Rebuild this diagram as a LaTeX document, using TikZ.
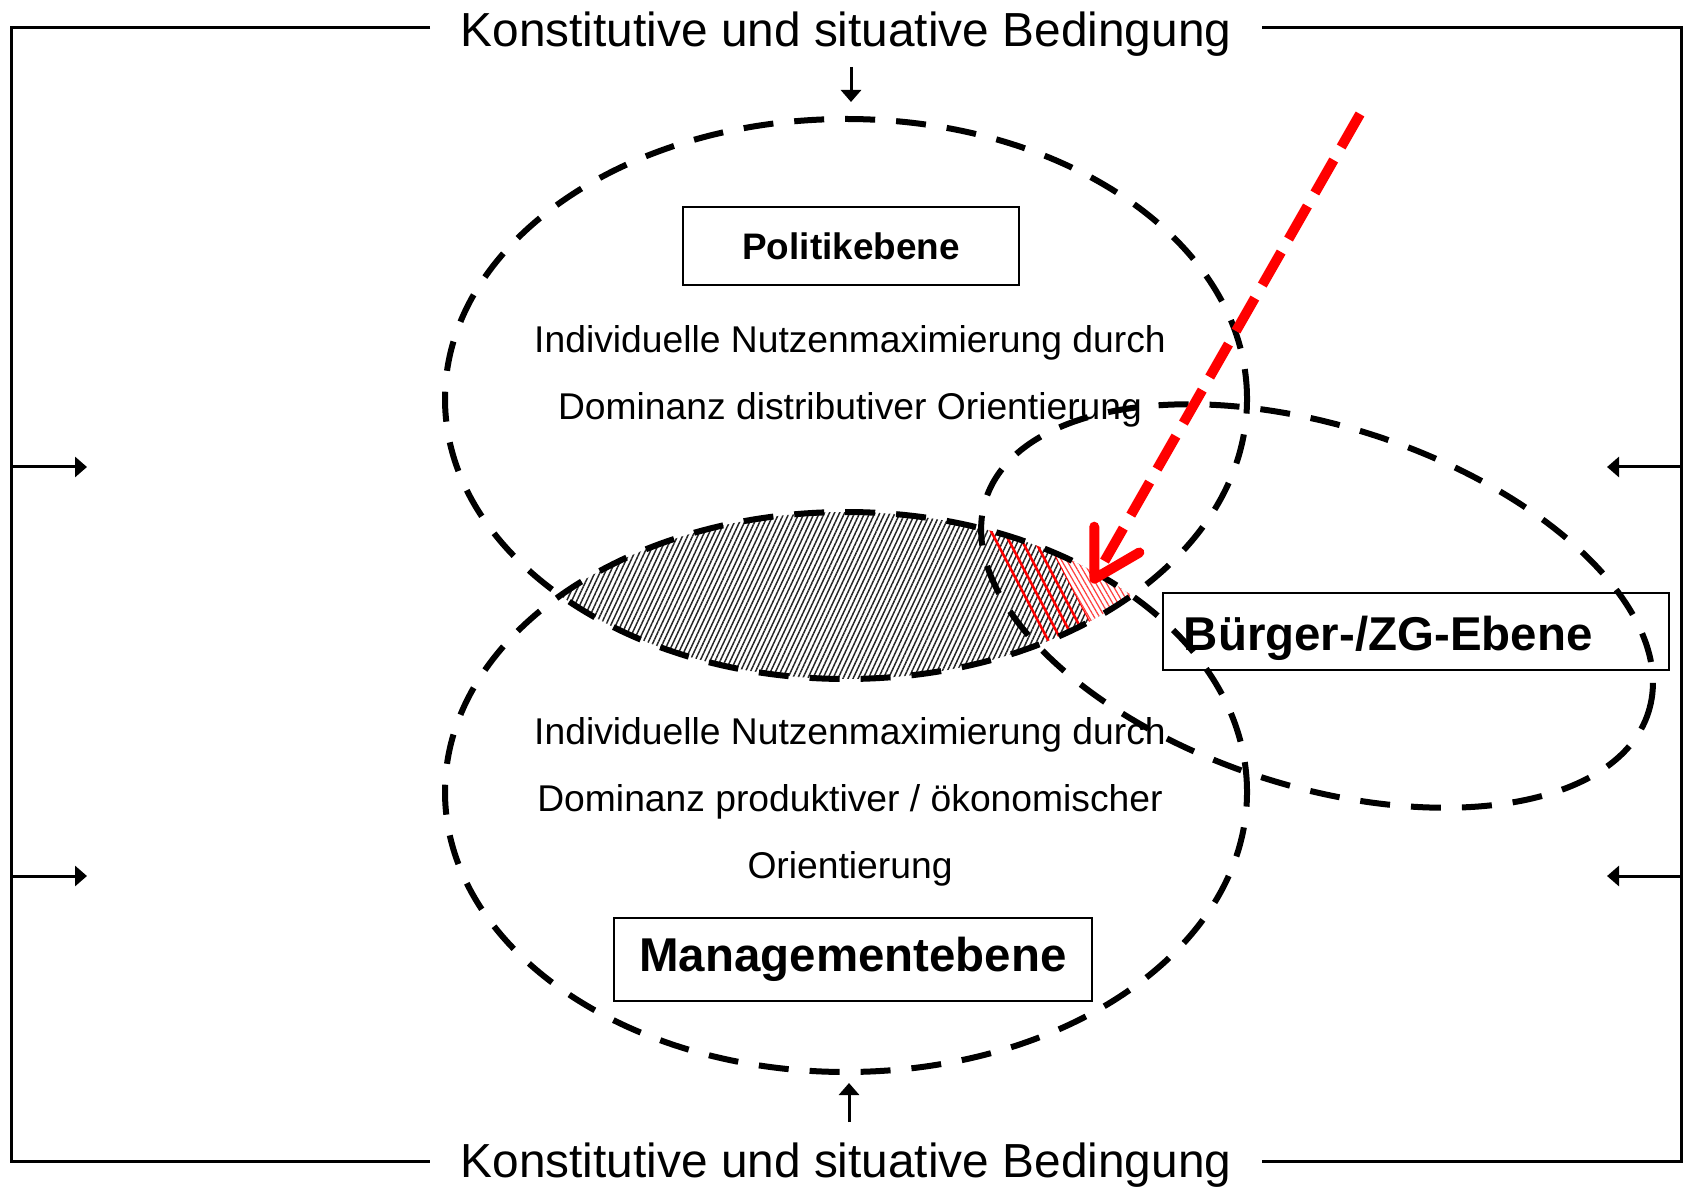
\documentclass[tikz,border=0pt]{standalone}
\usepackage{fontspec}
\setmainfont{Liberation Sans}
\usetikzlibrary{arrows.meta}
\usetikzlibrary{patterns.meta}
\usetikzlibrary{calc}

\tikzset{
  ebene/.style={line width=0.06cm, dash pattern=on 0.3cm off 0.21cm},
  rahmen/.style={line width=0.03cm},
  zufluss/.style={line width=0.03cm, -{Triangle[length=0.12cm, width=0.2cm]}},
  ebenenbox/.style={draw, line width=0.015cm, inner sep=0pt},
  bedingung/.style={font=\fontsize{13.6}{16}\selectfont, inner xsep=0.3cm, inner ysep=0pt},
  beschreibung/.style={font=\fontsize{10.6}{19}\selectfont, align=center},
  schnitt/.style={red, line width=0.025cm},
  einfluss/.style={red, line width=0.1cm, dash pattern=on 0.38cm off 0.15cm,
    -{Straight Barb[length=0.45cm, width=0.52cm, line cap=round, round]}}
}

\begin{document}
\begin{tikzpicture}
        \newcommand{\ebenecx}{8.46}
        \newcommand{\politcy}{7.90}
        \newcommand{\mgmtcy}{3.97}
        \newcommand{\ebenerx}{4.01}
        \newcommand{\ebenery}{2.80}
        \newcommand{\buergercx}{13.17}
        \newcommand{\buergercy}{5.83}
        \useasboundingbox (0,0) rectangle (16.9,11.89);
        \begin{scope}
            \clip (\ebenecx,\politcy) ellipse [x radius=\ebenerx, y radius=\ebenery];
            \fill[pattern={Lines[angle=65, distance=1.3pt, line width=0.42pt]}, pattern color=black!85]
                (\ebenecx,\mgmtcy) ellipse [x radius=\ebenerx, y radius=\ebenery];
            \clip (\ebenecx,\mgmtcy) ellipse [x radius=\ebenerx, y radius=\ebenery];
            \foreach \k in {0,...,4}
                \draw[schnitt] ($(9.93,6.54)+\k*(0.102,0.0534)+(-0.464,0.886)$) -- ++(1.392,-2.658);
            \fill[white] (10.106,7.196) -- (11.266,4.981) -- (12.5,4.981) -- (12.5,7.196) -- cycle;
            \fill[pattern={Lines[angle=-60, distance=1.3pt, line width=0.35pt]}, pattern color=red!75]
                (10.106,7.196) -- (11.266,4.981) -- (12.5,4.981) -- (12.5,7.196) -- cycle;
        \end{scope}
        \node[bedingung] (topcond) at (\ebenecx,11.55) {Konstitutive und situative Bedingung};
        \node[bedingung] (botcond) at (\ebenecx,0.24) {Konstitutive und situative Bedingung};
        \node[ebenenbox, minimum width=3.36cm, minimum height=0.78cm, font=\bfseries\fontsize{10.5}{12}\selectfont] (politik) at (8.51,9.43) {Politikebene};
        \node[beschreibung] (politziel) at (8.50,8.13) {Individuelle Nutzenmaximierung durch\\Dominanz distributiver Orientierung};
        \node[beschreibung] (mgmtziel) at (8.50,3.87) {Individuelle Nutzenmaximierung durch\\Dominanz produktiver / ökonomischer\\Orientierung};
        \node[ebenenbox, minimum width=4.78cm, minimum height=0.83cm, font=\bfseries\fontsize{13.5}{16}\selectfont] (mgmt) at (8.53,2.295) {Managementebene};
        \node[ebenenbox, anchor=west, text width=4.64cm, inner xsep=0.21cm, align=left, minimum height=0.77cm,
            text height=0.38cm, text depth=0cm, font=\bfseries\fontsize{13.5}{16}\selectfont] (buerger) at (11.62,5.575) {Bürger-/ZG-Ebene};
        \draw[ebene] (\ebenecx,\politcy) ellipse [x radius=\ebenerx, y radius=\ebenery];
        \draw[ebene] (\ebenecx,\mgmtcy) ellipse [x radius=\ebenerx, y radius=\ebenery];
        \draw[ebene, rotate around={-17.8:(\buergercx,\buergercy)}] (\buergercx,\buergercy) ellipse [x radius=3.48, y radius=1.80];
        \coordinate (obenlinks) at (0.11,11.61);
        \coordinate (untenrechts) at (16.81,0.28);
        \draw[rahmen] (topcond.west |- obenlinks) -- (obenlinks) |- (botcond.west |- untenrechts);
        \draw[rahmen] (topcond.east |- obenlinks) -| (untenrechts) -- (botcond.east |- untenrechts);
        \foreach \yy [count=\i] in {7.22,3.13} {
            \coordinate (zul\i) at (0.87,\yy);
            \coordinate (zur\i) at (16.07,\yy);
            \draw[zufluss] (zul\i -| obenlinks) -- (zul\i);
            \draw[zufluss] (zur\i -| untenrechts) -- (zur\i);
        }
        \coordinate (polittop) at (8.51,10.87);
        \coordinate (mgmtbot) at (8.49,1.06);
        \draw[zufluss, shorten <=0.1cm] (polittop |- topcond.south) -- (polittop);
        \draw[zufluss, shorten <=0.2cm] (mgmtbot |- botcond.north) -- (mgmtbot);
        \coordinate (einflussstart) at (13.60,10.75);
        \coordinate (schnittpunkt) at (10.92,6.06);
        \draw[einfluss] (einflussstart) -- (schnittpunkt);
\end{tikzpicture}
\end{document}
